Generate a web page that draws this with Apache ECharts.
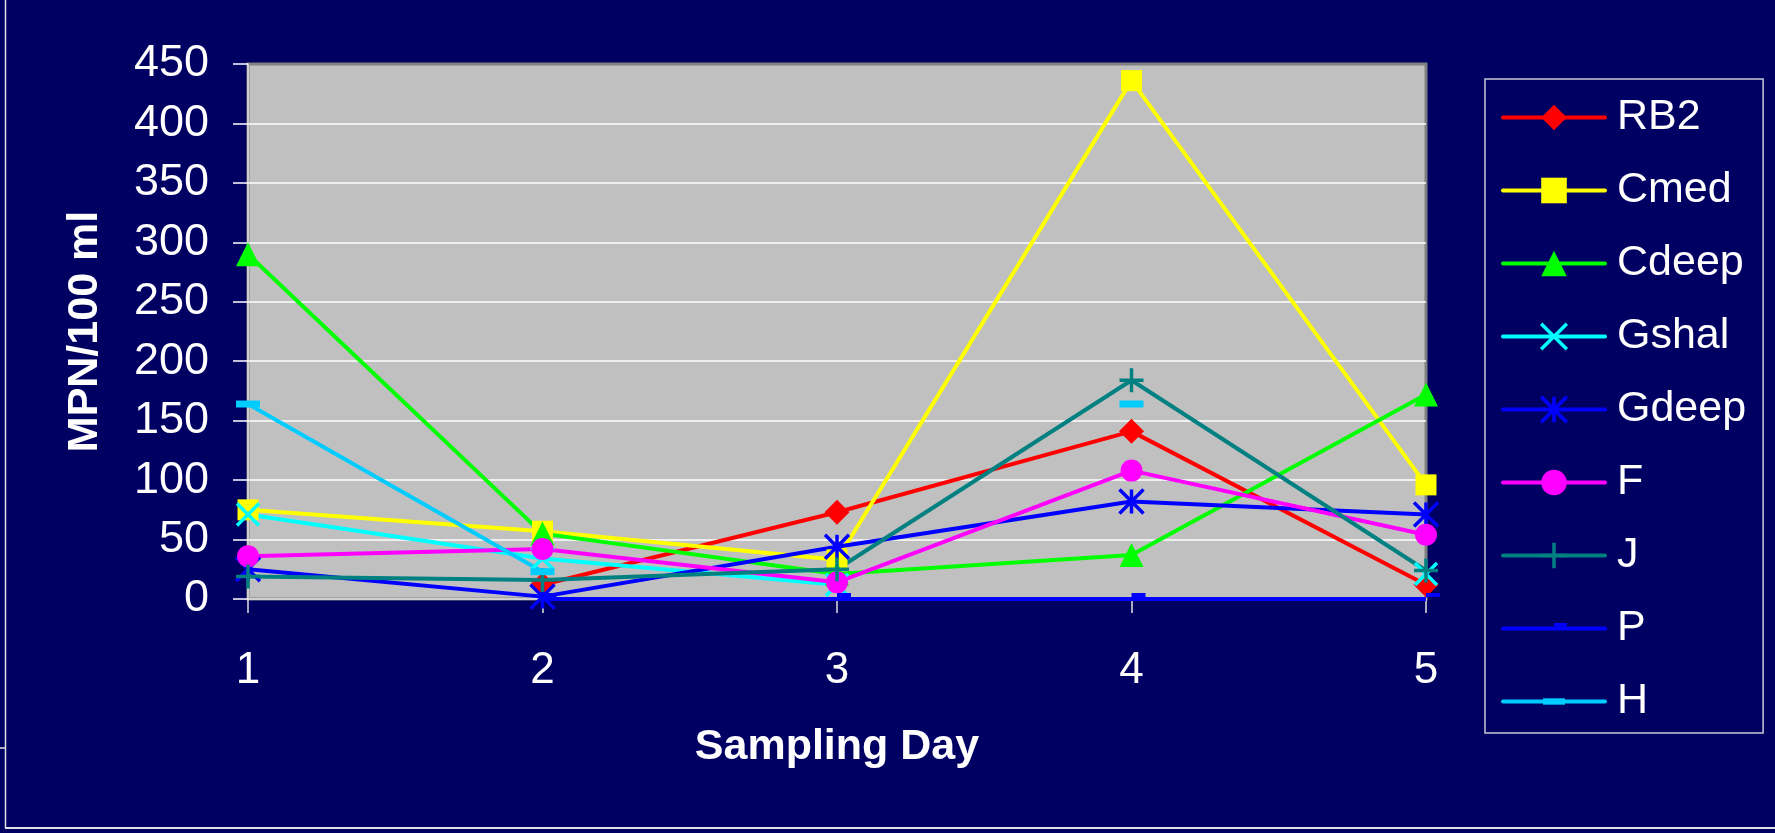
<!DOCTYPE html>
<html>
<head>
<meta charset="utf-8">
<script src="https://cdn.jsdelivr.net/npm/echarts@6/dist/echarts.min.js"></script>
<style>
  html, body { margin: 0; padding: 0; background: #000063; }
  #chart { width: 1775px; height: 833px; }
</style>
</head>
<body>
<div id="chart"></div>
<script>
// Sampling days on the x axis
const days = ['1', '2', '3', '4', '5'];

// MPN/100 ml per sampling site (null = no sample that day)
const RB2   = [null, 12, 73, 141, 12];
const Cmed  = [75, 57, 33, 436, 96];
const Cdeep = [290, 55, 21, 37, 172];
const Gshal = [71, 34, 12, null, 21];
const Gdeep = [25, 2, 44, 82, 71];
const F     = [36, 42, 14, 108, 54];
const J     = [19, 16, 25, 184, 24];
const P     = [null, 0, 0, 0, 0];
const H     = [164, 23, null, 164, null];

const FONT = "'Liberation Sans', Arial, sans-serif";

// Marker shapes drawn as stroked paths
const SYM_X = 'path://M0,0L10,10M10,0L0,10';
const SYM_STAR = 'path://M0,0L10,10M10,0L0,10M5,0L5,10';
const SYM_PLUS = 'path://M5,0L5,10M0,5L10,5';
// Dash markers inside a square box (the empty moves set the box)
const SYM_DASH_P = 'path://M0,0M28,28M14,8h14v4h-14z';
const SYM_DASH_H = 'path://M0,0M28,28M2,10.5h24v7h-24z';

const seriesDefs = [
  { name: 'RB2',   data: RB2,   color: '#FF0000', symbol: 'diamond',  size: 25 },
  { name: 'Cmed',  data: Cmed,  color: '#FFFF00', symbol: 'rect',     size: 21 },
  { name: 'Cdeep', data: Cdeep, color: '#00FF00', symbol: 'triangle', size: 24 },
  { name: 'Gshal', data: Gshal, color: '#00FFFF', symbol: SYM_X,      size: 22, stroke: true },
  { name: 'Gdeep', data: Gdeep, color: '#0000FF', symbol: SYM_STAR,   size: 24, stroke: true },
  { name: 'F',     data: F,     color: '#FF00FF', symbol: 'circle',   size: 22 },
  { name: 'J',     data: J,     color: '#008080', symbol: SYM_PLUS,   size: 24, stroke: true },
  { name: 'P',     data: P,     color: '#0000FF', symbol: SYM_DASH_P, size: 28 },
  { name: 'H',     data: H,     color: '#00CCFF', symbol: SYM_DASH_H, size: 28 }
];

function markerStyle(d) {
  return d.stroke
    ? { color: d.color, borderColor: d.color, borderWidth: 3.5 }
    : { color: d.color, borderWidth: 0 };
}

const series = seriesDefs.map(d => ({
  name: d.name,
  type: 'line',
  data: d.data,
  connectNulls: false,
  showSymbol: true,
  symbol: d.symbol,
  symbolSize: d.size,
  lineStyle: { color: d.color, width: 4 },
  itemStyle: markerStyle(d),
  emphasis: { disabled: true }
}));

const legendData = seriesDefs.map(d => ({
  name: d.name,
  itemStyle: markerStyle(d),
  lineStyle: { color: d.color, width: 4, cap: 'round' }
}));

const chart = echarts.init(document.getElementById('chart'), null, { renderer: 'canvas' });

chart.setOption({
  animation: false,
  backgroundColor: '#000063',
  grid: {
    left: 248, top: 64, right: 349, bottom: 234,
    show: true,
    backgroundColor: '#C0C0C0',
    borderColor: '#808080',
    borderWidth: 3
  },
  xAxis: {
    type: 'category',
    data: days,
    boundaryGap: false,
    axisLine: { show: true, lineStyle: { color: '#D0D0D0', width: 2 } },
    axisTick: { show: true, length: 14, lineStyle: { color: '#E0E0E0', width: 1.5 } },
    axisLabel: { color: '#FFFFFF', fontSize: 44, fontFamily: FONT, margin: 50 },
    splitLine: { show: false },
    name: 'Sampling Day',
    nameLocation: 'middle',
    nameGap: 127,
    nameTextStyle: { color: '#FFFFFF', fontSize: 43, fontWeight: 'bold', fontFamily: FONT }
  },
  yAxis: {
    type: 'value',
    min: 0, max: 450, interval: 50,
    axisLine: { show: true, lineStyle: { color: '#E8E8E8', width: 1.5 } },
    axisTick: { show: true, length: 15, lineStyle: { color: '#FFFFFF', width: 1.5 } },
    axisLabel: { color: '#FFFFFF', fontSize: 45, fontFamily: FONT, margin: 39, padding: [0, 0, 8, 0] },
    splitLine: { show: true, showMinLine: false, showMaxLine: false, lineStyle: { color: '#FFFFFF', width: 1.5 } },
    name: 'MPN/100 ml',
    nameLocation: 'middle',
    nameGap: 141,
    nameTextStyle: { color: '#FFFFFF', fontSize: 43, fontWeight: 'bold', fontFamily: FONT }
  },
  legend: {
    orient: 'vertical',
    left: 1485, top: 79,
    padding: [17, 17, 10, 16],
    itemWidth: 102, itemHeight: 32, itemGap: 30,
    borderColor: '#C8C8D8', borderWidth: 1.5,
    selectedMode: false,
    lineStyle: { width: 4 },
    textStyle: { color: '#FFFFFF', fontSize: 43, fontFamily: FONT, padding: [0, 0, 0, 7] },
    data: legendData
  },
  graphic: [
    { type: 'line', silent: true, shape: { x1: 5.5, y1: 0, x2: 5.5, y2: 828 }, style: { stroke: '#E0E0E0', lineWidth: 1.5 } },
    { type: 'line', silent: true, shape: { x1: 5, y1: 828, x2: 1775, y2: 828 }, style: { stroke: '#E0E0E0', lineWidth: 2 } },
    { type: 'line', silent: true, shape: { x1: 0, y1: 748, x2: 5, y2: 748 }, style: { stroke: '#E0E0E0', lineWidth: 1.5 } }
  ],
  series: series
});
</script>
</body>
</html>
